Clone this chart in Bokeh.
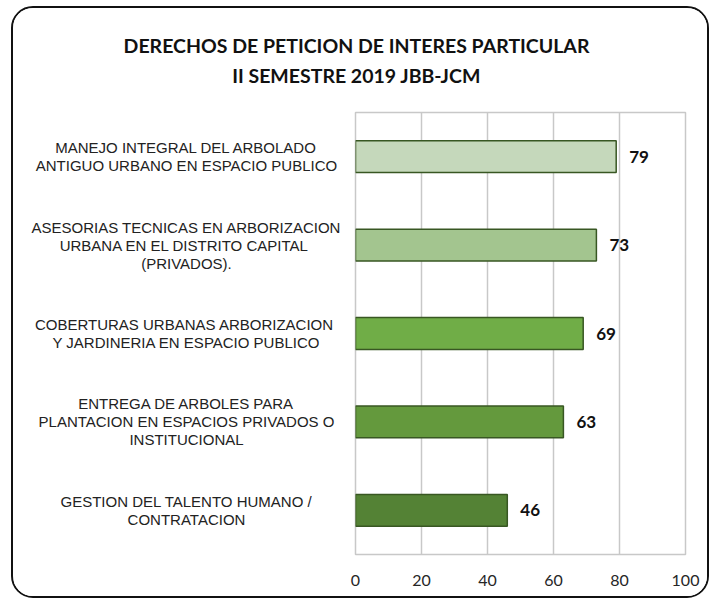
from bokeh.plotting import figure
from bokeh.layouts import column, row
from bokeh.models import ColumnDataSource, LabelSet, Range1d, FixedTicker
from bokeh.core.properties import value
from bokeh.embed import file_html
from bokeh.resources import INLINE

categories = [
    "MANEJO INTEGRAL DEL ARBOLADO\nANTIGUO URBANO EN ESPACIO PUBLICO",
    "ASESORIAS TECNICAS EN ARBORIZACION\nURBANA  EN EL DISTRITO CAPITAL\n(PRIVADOS).",
    "COBERTURAS URBANAS  ARBORIZACION\nY JARDINERIA EN ESPACIO PUBLICO",
    "ENTREGA DE ARBOLES PARA\nPLANTACION EN ESPACIOS PRIVADOS O\nINSTITUCIONAL",
    "GESTION DEL TALENTO HUMANO /\nCONTRATACION",
]
values = [79, 73, 69, 63, 46]
bar_colors = ["#C5D8BB", "#A3C58F", "#70AD47", "#64993D", "#548235"]
x_ticks = [0, 20, 40, 60, 80, 100]
title_lines = ["DERECHOS DE PETICION DE INTERES PARTICULAR", "II SEMESTRE 2019 JBB-JCM"]

n = len(categories)
pos = [n - 1 - i for i in range(n)]
src = ColumnDataSource(dict(y=pos, v=values, c=bar_colors,
                            lab=[str(v) for v in values]))

# one row per text line of each category label, so every line is centred
LINE = 18
ly, lt, loff = [], [], []
for yy, cat in zip(pos, categories):
    parts = cat.split("\n")
    k = len(parts)
    for j, part in enumerate(parts):
        ly.append(yy)
        lt.append(part)
        loff.append((j - (k - 1) / 2) * LINE)
lsrc = ColumnDataSource(dict(y=ly, t=lt, off=loff))

W = 694
TH = 98          # title strip height
LW = 336         # label column width
FW, FH = 330, 442
MT, MB, ML, MR = 6, 42, 6, 22

yr = Range1d(-0.5, n - 0.5)


def clean(f):
    f.axis.visible = False
    f.grid.grid_line_color = None
    f.outline_line_color = None
    f.background_fill_color = "white"
    f.border_fill_color = "white"


# title strip
tf = figure(width=W, height=TH, output_backend="svg", toolbar_location=None,
            x_range=Range1d(0, W), y_range=Range1d(0, TH),
            min_border=0, frame_width=W, frame_height=TH)
clean(tf)
tsrc = ColumnDataSource(dict(x=[343, 343], y=[TH - 37, TH - 67], t=title_lines))
tf.text(x="x", y="y", text="t", source=tsrc, text_align="center",
        text_baseline="middle", text_font=value("Lato"), text_font_style="bold",
        text_font_size="19.5px", text_color="#111111")

# category label column
lf = figure(width=LW, height=MT + FH + MB, output_backend="svg", toolbar_location=None,
            x_range=Range1d(0, LW), y_range=yr, frame_width=LW, frame_height=FH,
            min_border_left=0, min_border_right=0, min_border_top=MT,
            min_border_bottom=MB)
clean(lf)
lf.text(x=173, y="y", y_offset="off", text="t", source=lsrc, text_align="center",
        text_baseline="middle", text_font=value("Liberation Sans"),
        text_font_size="15px", text_color="#222222")

# bar chart
p = figure(width=ML + FW + MR, height=MT + FH + MB, frame_width=FW, frame_height=FH,
           output_backend="svg", toolbar_location=None,
           x_range=Range1d(0, 100), y_range=yr,
           min_border_left=ML, min_border_right=MR, min_border_top=MT,
           min_border_bottom=MB)
p.background_fill_color = "white"
p.border_fill_color = "white"
p.outline_line_color = "#C8C8C8"
p.outline_line_width = 1.5

p.hbar(y="y", right="v", left=0, height=0.36, fill_color="c",
       line_color="#385723", line_width=1.5, source=src)

p.xaxis.ticker = FixedTicker(ticks=x_ticks)
p.xaxis.axis_line_color = None
p.xaxis.major_tick_line_color = None
p.xaxis.minor_tick_line_color = None
p.xaxis.major_label_standoff = 14
p.xaxis.major_label_text_font = "Lato"
p.xaxis.major_label_text_font_size = "16px"
p.xaxis.major_label_text_color = "#262626"
p.yaxis.visible = False
p.ygrid.grid_line_color = None
p.xgrid.grid_line_color = "#C8C8C8"
p.xgrid.grid_line_width = 1.5

vals = LabelSet(x="v", y="y", text="lab", source=src, x_offset=13,
                text_baseline=value("middle"), text_align=value("left"),
                text_font=value("Lato"), text_font_style=value("bold"),
                text_font_size=value("17px"), text_color=value("#111111"))
p.add_layout(vals)

layout = column(tf, row(lf, p, spacing=0), spacing=0,
                styles={"border": "2px solid #111111", "border-radius": "22px",
                        "overflow": "hidden", "background-color": "white",
                        "margin-left": "11px", "margin-top": "6px"})

open("out.html", "w").write(file_html(layout, INLINE))
